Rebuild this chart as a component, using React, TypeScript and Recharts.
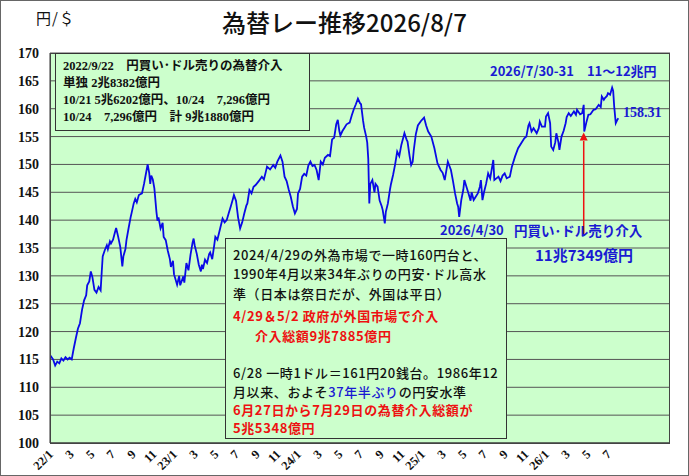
import React from 'react';
import { LineChart, Line, XAxis, YAxis, CartesianGrid, ReferenceLine, ReferenceDot } from 'recharts';

// x position in months since 2022/1 (daily-ish samples)
const months = [
  0.0, 0.3, 0.5, 0.7, 0.9, 1.1, 1.3, 1.5, 1.7, 1.9, 2.1, 2.3, 2.5, 2.7, 2.9, 3.1, 3.3, 3.5, 3.6, 3.8,
  3.95, 4.1, 4.3, 4.5, 4.7, 4.9, 5.0, 5.1, 5.3, 5.5, 5.6, 5.8, 5.9, 6.1, 6.3, 6.4, 6.6, 6.8, 7.0, 7.1,
  7.3, 7.4, 7.6, 7.8, 7.9, 8.1, 8.25, 8.4, 8.6, 8.9, 9.1, 9.3, 9.45, 9.6, 9.7, 9.8, 9.95, 10.1, 10.3, 10.4,
  10.5, 10.7, 10.9, 11.0, 11.2, 11.4, 11.6, 11.7, 11.9, 12.0, 12.3, 12.5, 12.6, 12.9, 13.0, 13.2, 13.4, 13.6, 13.8, 13.9,
  14.0, 14.2, 14.4, 14.6, 14.7, 14.8, 15.0, 15.2, 15.4, 15.5, 15.7, 15.9, 16.0, 16.2, 16.4, 16.7, 16.9, 17.1, 17.3, 17.5,
  17.7, 17.8, 18.0, 18.2, 18.4, 18.6, 18.8, 19.0, 19.1, 19.3, 19.5, 19.7, 19.9, 20.2, 20.5, 20.7, 20.9, 21.0, 21.3, 21.6,
  21.8, 22.0, 22.3, 22.5, 22.7, 22.9, 23.1, 23.3, 23.5, 23.7, 23.9, 24.0, 24.2, 24.4, 24.6, 24.8, 25.0, 25.2, 25.4, 25.6,
  25.8, 26.0, 26.2, 26.4, 26.6, 26.9, 27.1, 27.3, 27.5, 27.7, 27.85, 28.0, 28.1, 28.3, 28.5, 28.7, 29.0, 29.2, 29.4, 29.6,
  29.8, 30.0, 30.1, 30.3, 30.4, 30.6, 30.7, 30.8, 30.9, 31.0, 31.2, 31.4, 31.5, 31.7, 31.9, 32.1, 32.2, 32.4, 32.5, 32.7,
  32.9, 33.0, 33.2, 33.4, 33.6, 33.8, 34.0, 34.3, 34.5, 34.6, 34.8, 34.95, 35.1, 35.2, 35.4, 35.6, 35.9, 36.2, 36.4, 36.6,
  36.9, 37.2, 37.5, 37.8, 38.0, 38.2, 38.5, 38.8, 39.0, 39.2, 39.4, 39.5, 39.6, 39.8, 40.0, 40.1, 40.3, 40.5, 40.7, 40.8,
  41.0, 41.2, 41.4, 41.6, 41.7, 41.85, 42.0, 42.2, 42.4, 42.6, 42.9, 43.0, 43.2, 43.4, 43.6, 43.8, 44.0, 44.2, 44.5, 44.7,
  45.0, 45.3, 45.6, 45.9, 46.1, 46.3, 46.4, 46.6, 46.8, 47.1, 47.3, 47.4, 47.6, 47.9, 48.0, 48.2, 48.4, 48.5, 48.7, 48.9,
  49.0, 49.2, 49.3, 49.5, 49.7, 49.9, 50.0, 50.2, 50.4, 50.7, 50.9, 51.0, 51.3, 51.5, 51.65, 51.7, 51.9, 52.1, 52.3, 52.6,
  52.8, 53.1, 53.3, 53.4, 53.6, 53.7, 53.9, 54.0, 54.2, 54.4, 54.5, 54.6, 54.75, 54.9, 55.0,
];

// yen per dollar
const rates = [
  115.8, 115.0, 113.9, 114.6, 114.3, 115.2, 114.8, 115.4, 115.0, 115.3, 115.0, 117.0, 118.8, 120.5, 121.5, 123.9, 125.6, 126.5, 128.3, 129.0,
  130.8, 129.8, 127.5, 127.0, 128.0, 127.4, 130.5, 133.5, 134.6, 135.5, 134.8, 136.2, 135.8, 136.5, 137.9, 138.6, 137.0, 135.2, 131.7, 133.5,
  134.8, 136.4, 138.5, 140.5, 141.3, 143.0, 143.8, 143.2, 144.5, 144.8, 146.5, 148.5, 150.0, 148.5, 146.5, 148.0, 147.3, 145.7, 141.5, 139.9,
  140.5, 138.5, 139.5, 137.0, 136.4, 134.5, 133.0, 131.6, 132.7, 130.3, 128.4, 130.0, 128.3, 129.9, 128.8, 132.3, 131.0, 133.8, 136.0, 136.7,
  135.5, 134.0, 132.0, 130.8, 132.0, 131.2, 132.9, 132.3, 133.9, 134.2, 133.0, 135.6, 137.0, 136.5, 138.0, 140.3, 139.6, 140.0, 141.3, 142.5,
  143.8, 144.5, 143.5, 140.5, 138.5, 139.6, 141.2, 142.6, 143.0, 145.4, 144.8, 146.0, 146.3, 147.0, 147.8, 147.3, 148.8, 149.6, 149.1, 149.9,
  149.4, 150.5, 151.6, 150.5, 147.8, 147.0, 145.5, 144.2, 142.5, 141.2, 142.0, 144.8, 145.6, 147.8, 148.3, 148.0, 149.8, 150.5, 149.7, 149.9,
  149.0, 147.2, 150.5, 150.0, 151.2, 151.7, 151.5, 154.5, 154.8, 157.2, 158.0, 156.0, 155.2, 156.0, 156.6, 157.2, 157.5, 158.8, 159.9, 160.8,
  161.8, 161.0, 160.8, 157.8, 156.6, 155.0, 153.9, 151.0, 143.0, 146.5, 147.2, 145.0, 146.5, 146.0, 143.5, 142.5, 141.8, 139.4, 141.5, 143.0,
  145.5, 146.5, 148.1, 150.0, 152.3, 151.5, 153.5, 155.6, 154.5, 154.1, 151.5, 149.9, 150.5, 152.5, 155.4, 157.0, 157.8, 158.4, 157.0, 155.9,
  155.0, 152.9, 150.2, 149.0, 148.5, 147.2, 150.5, 149.0, 147.0, 144.8, 143.0, 142.4, 140.6, 143.6, 145.5, 147.2, 146.0, 144.8, 143.5, 145.0,
  143.6, 144.2, 144.8, 146.0, 147.2, 143.6, 145.0, 146.5, 148.4, 147.5, 150.8, 147.2, 147.5, 147.8, 147.0, 148.0, 148.4, 147.5, 147.8, 149.6,
  151.4, 152.9, 153.8, 154.7, 155.0, 157.0, 157.4, 155.9, 156.5, 155.6, 156.5, 157.7, 156.8, 156.8, 158.6, 159.2, 157.4, 153.2, 152.6, 154.0,
  155.6, 154.0, 152.6, 155.0, 156.0, 157.4, 158.5, 159.2, 158.7, 159.5, 158.9, 159.8, 159.0, 159.2, 160.7, 155.9, 157.5, 158.9, 159.0, 159.8,
  159.9, 160.7, 160.3, 162.2, 161.6, 161.9, 162.3, 162.8, 162.5, 163.8, 163.2, 160.4, 157.4, 158.0, 158.3,
];

const tickMonths = [0, 2, 4, 6, 8, 10, 12, 14, 16, 18, 20, 22, 24, 26, 28, 30, 32, 34, 36, 38, 40, 42, 44, 46, 48, 50, 52, 54];
const tickLabels = ['22/1', '3', '5', '7', '9', '11', '23/1', '3', '5', '7', '9', '11', '24/1', '3', '5', '7', '9', '11', '25/1', '3', '5', '7', '9', '11', '26/1', '3', '5', '7'];
const yTicks = [100, 105, 110, 115, 120, 125, 130, 135, 140, 145, 150, 155, 160, 165, 170];

const interventionMonth = 51.65;
const arrowFrom = 137.3;
const arrowTo = 155.2;

const data = months.map((m, i) => ({ m, rate: rates[i] }));

const SERIF = "'Liberation Serif', 'Times New Roman', 'Noto Sans CJK JP', serif";
const SANS = "'Noto Sans CJK JP', 'Noto Sans', sans-serif";
const BLUE = '#1a1ad2';
const RED = '#ee1111';

const XTick = (props: any) => {
  const { x, payload } = props;
  const idx = tickMonths.indexOf(payload.value);
  const label = idx >= 0 ? tickLabels[idx] : '';
  const ax = x + 4;
  const ay = 455;
  return (
    <text
      x={ax}
      y={ay}
      transform={`rotate(-45 ${ax} ${ay})`}
      textAnchor="end"
      style={{ fontFamily: SERIF, fontWeight: 'bold', fontSize: 12.5 }}
      fill="#111"
    >
      {label}
    </text>
  );
};

const YTick = (props: any) => {
  const { y, payload } = props;
  return (
    <text
      x={39}
      y={y}
      dy="0.36em"
      textAnchor="end"
      style={{ fontFamily: SERIF, fontWeight: 'bold', fontSize: 14 }}
      fill="#111"
    >
      {payload.value}
    </text>
  );
};

const ArrowHead = (props: any) => {
  const { cx, cy } = props;
  return <polygon points={`${cx},${cy - 3} ${cx - 4},${cy + 5} ${cx + 4},${cy + 5}`} fill={RED} />;
};

const abs = (left: number, top: number, extra: React.CSSProperties = {}): React.CSSProperties => ({
  position: 'absolute',
  left,
  top,
  whiteSpace: 'nowrap',
  ...extra,
});

const boxLine = (top: number, extra: React.CSSProperties = {}, left = 7): React.CSSProperties =>
  abs(left, top, { lineHeight: '19px', fontSize: 13, letterSpacing: 0.6, fontWeight: 500, ...extra });

export default function App() {
  return (
    <div
      style={{
        position: 'absolute',
        left: 0,
        top: 0,
        width: 689,
        height: 476,
        background: '#fff',
        overflow: 'hidden',
      }}
    >
      <LineChart width={689} height={476} data={data} margin={{ top: 53, right: 19, bottom: 0, left: 0 }}>
        <CartesianGrid vertical={false} stroke="#555" fill="#ccffcc" fillOpacity={1} />
        <XAxis
          dataKey="m"
          type="number"
          domain={[0, 60]}
          ticks={tickMonths}
          interval={0}
          tick={<XTick />}
          tickLine={false}
          axisLine={{ stroke: '#333' }}
          height={33}
          allowDataOverflow
        />
        <YAxis
          domain={[100, 170]}
          ticks={yTicks}
          interval={0}
          width={50}
          tickLine={false}
          axisLine={{ stroke: '#333' }}
          tick={<YTick />}
          allowDataOverflow
        />
        <ReferenceLine
          segment={[
            { x: interventionMonth, y: arrowFrom },
            { x: interventionMonth, y: arrowTo - 1 },
          ]}
          stroke={RED}
          strokeWidth={1.5}
        />
        <ReferenceDot x={interventionMonth} y={arrowTo} r={4} shape={<ArrowHead />} />
        <Line
          type="linear"
          dataKey="rate"
          stroke="#0a0ae6"
          strokeWidth={1.8}
          dot={false}
          activeDot={false}
          isAnimationActive={false}
        />
      </LineChart>

      {/* plot frame */}
      <div style={abs(50, 53, { width: 620, height: 391, border: '1px solid #444', boxSizing: 'border-box', pointerEvents: 'none' })} />
      {/* outer frame */}
      <div style={abs(0, 0, { width: 689, height: 476, border: '1px solid #666', boxSizing: 'border-box', pointerEvents: 'none' })} />

      {/* title */}
      <div style={abs(0, 7, { width: 689, textAlign: 'center', fontFamily: SANS, fontSize: 24, fontWeight: 500, lineHeight: '30px', color: '#111' })}>
        為替レー推移2026/8/7
      </div>
      <div style={abs(36, 8, { fontFamily: SANS, fontSize: 15, lineHeight: '20px', color: '#111', letterSpacing: 1 })}>円/＄</div>

      {/* top-left box */}
      <div
        style={abs(55, 53, {
          width: 255,
          height: 78,
          background: '#ccffcc',
          border: '1.5px solid #333',
          boxSizing: 'border-box',
          fontFamily: SERIF,
          fontWeight: 'bold',
          fontSize: 12.5,
          color: '#111',
        })}
      >
        <div style={abs(7, 4, { lineHeight: '16px' })}>2022/9/22　円買い･ドル売りの為替介入</div>
        <div style={abs(7, 21, { lineHeight: '16px' })}>単独 2兆8382億円</div>
        <div style={abs(7, 38, { lineHeight: '16px' })}>10/21 5兆6202億円、10/24　7,296億円</div>
        <div style={abs(7, 55, { lineHeight: '16px' })}>10/24　7,296億円　計 9兆1880億円</div>
      </div>

      {/* right annotations */}
      <div style={abs(490, 62, { fontFamily: SANS, fontWeight: 'bold', fontSize: 13, lineHeight: '18px', color: BLUE })}>
        2026/7/30-31　11～12兆円
      </div>
      <div style={abs(623, 104, { fontFamily: SERIF, fontWeight: 'bold', fontSize: 14, lineHeight: '18px', color: BLUE })}>
        158.31
      </div>
      <div style={abs(440, 221, { fontFamily: SANS, fontWeight: 'bold', fontSize: 13, lineHeight: '18px', color: BLUE })}>
        2026/4/30
      </div>
      <div style={abs(514, 221, { fontFamily: SANS, fontWeight: 'bold', fontSize: 13.5, lineHeight: '18px', color: BLUE })}>
        円買い･ドル売り介入
      </div>
      <div style={abs(535, 246, { fontFamily: SANS, fontWeight: 'bold', fontSize: 15, lineHeight: '18px', color: BLUE })}>
        11兆7349億円
      </div>

      {/* central box */}
      <div
        style={abs(225, 238, {
          width: 282,
          height: 201,
          background: '#ccffcc',
          border: '1.5px solid #333',
          boxSizing: 'border-box',
          fontFamily: SANS,
          color: '#111',
        })}
      >
        <div style={boxLine(6)}>2024/4/29の外為市場で一時160円台と、</div>
        <div style={boxLine(25)}>1990年4月以来34年ぶりの円安･ドル高水</div>
        <div style={boxLine(45)}>準（日本は祭日だが、外国は平日）</div>
        <div style={boxLine(67, { fontWeight: 'bold', color: RED })}>4/29＆5/2 政府が外国市場で介入</div>
        <div style={boxLine(87, { fontWeight: 'bold', color: RED }, 29)}>介入総額9兆7885億円</div>
        <div style={boxLine(124)}>6/28 一時1ドル＝161円20銭台。1986年12</div>
        <div style={boxLine(143)}>
          月以来、およそ<span style={{ color: BLUE }}>37年半ぶり</span>の円安水準
        </div>
        <div style={boxLine(162, { fontWeight: 'bold', color: RED, lineHeight: '18px' })}>6月27日から7月29日の為替介入総額が</div>
        <div style={boxLine(180, { fontWeight: 'bold', color: RED, lineHeight: '18px' })}>5兆5348億円</div>
      </div>
    </div>
  );
}
